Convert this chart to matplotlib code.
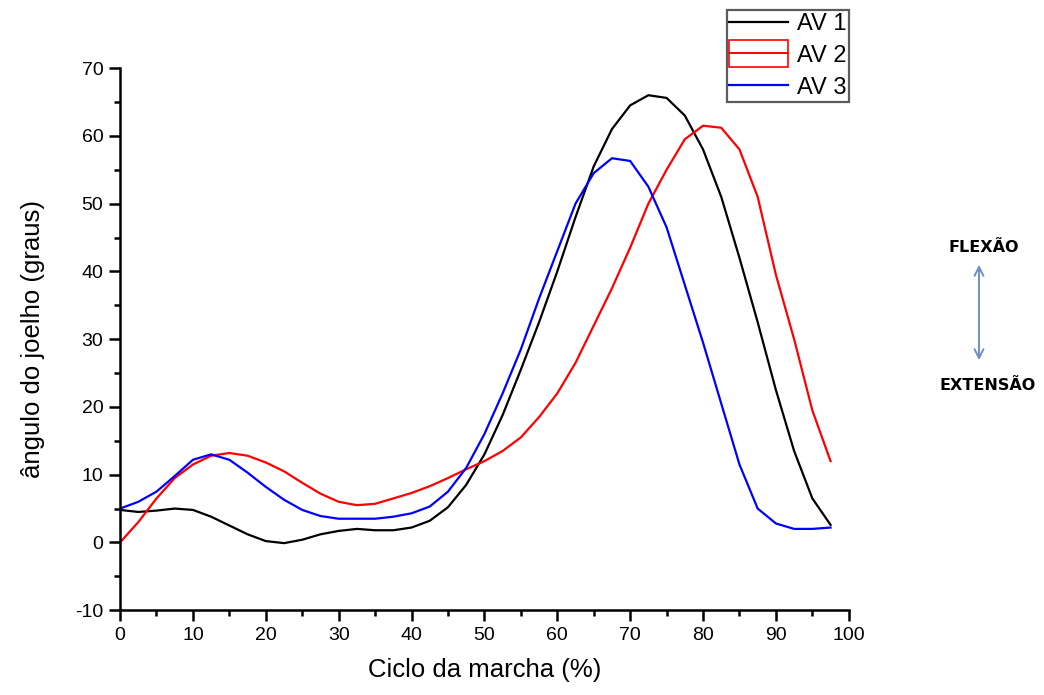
import matplotlib.pyplot as plt
from matplotlib.patches import Rectangle
from matplotlib.ticker import MultipleLocator

plt.rcParams['font.family'] = ['Liberation Sans', 'DejaVu Sans']
plt.rcParams['axes.unicode_minus'] = False

# gait cycle (%) and knee angle for each evaluation
ciclo = [0, 2.5, 5, 7.5, 10, 12.5, 15, 17.5, 20, 22.5, 25, 27.5, 30, 32.5, 35, 37.5,
         40, 42.5, 45, 47.5, 50, 52.5, 55, 57.5, 60, 62.5, 65, 67.5, 70, 72.5, 75,
         77.5, 80, 82.5, 85, 87.5, 90, 92.5, 95, 97.5]
av1 = [4.8, 4.5, 4.7, 5.0, 4.8, 3.8, 2.5, 1.2, 0.2, -0.1, 0.4, 1.2, 1.7, 2.0, 1.8, 1.8,
       2.2, 3.2, 5.2, 8.5, 13.0, 18.8, 25.5, 32.5, 40.0, 48.0, 55.5, 61.0, 64.5, 66.0, 65.6,
       63.0, 58.0, 51.0, 42.0, 32.5, 22.5, 13.5, 6.5, 2.6]
av2 = [0.0, 3.0, 6.5, 9.5, 11.5, 12.8, 13.2, 12.8, 11.8, 10.5, 8.8, 7.2, 6.0, 5.5, 5.7, 6.5,
       7.3, 8.3, 9.5, 10.8, 12.0, 13.5, 15.5, 18.5, 22.0, 26.5, 32.0, 37.5, 43.5, 50.0, 55.0,
       59.5, 61.5, 61.2, 58.0, 51.0, 39.5, 30.0, 19.5, 12.0]
av3 = [5.0, 6.0, 7.5, 9.8, 12.2, 13.0, 12.2, 10.3, 8.2, 6.3, 4.8, 3.9, 3.5, 3.5, 3.5, 3.8,
       4.3, 5.3, 7.5, 11.0, 16.0, 22.0, 28.5, 36.0, 43.0, 50.0, 54.5, 56.7, 56.3, 52.5, 46.5,
       38.0, 29.5, 20.5, 11.5, 5.0, 2.8, 2.0, 2.0, 2.2]


class StackedBoxHandler:
    # two outlined boxes one above the other, as the AV 2 legend key
    def legend_artist(self, legend, orig_handle, fontsize, handlebox):
        x0, y0 = handlebox.xdescent, handlebox.ydescent
        w, h = handlebox.width, handlebox.height
        col = orig_handle.get_color()
        bh = h * 0.8
        mid = y0 + h / 2
        top = Rectangle((x0, mid), w, bh, facecolor='none',
                        edgecolor=col, lw=1.2, transform=handlebox.get_transform())
        bot = Rectangle((x0, mid - bh), w, bh, facecolor='none',
                        edgecolor=col, lw=1.2, transform=handlebox.get_transform())
        handlebox.add_artist(top)
        handlebox.add_artist(bot)
        return top


fig = plt.figure(figsize=(10.44, 6.95), dpi=100)
ax = fig.add_axes([0.115, 0.122, 0.698, 0.780])

l1, = ax.plot(ciclo, av1, color='black', lw=1.6, label='AV 1')
l2, = ax.plot(ciclo, av2, color='red', lw=1.6, label='AV 2')
l3, = ax.plot(ciclo, av3, color='blue', lw=1.6, label='AV 3')

ax.set_xlim(0, 100)
ax.set_ylim(-10, 70)
ax.xaxis.set_major_locator(MultipleLocator(10))
ax.xaxis.set_minor_locator(MultipleLocator(5))
ax.yaxis.set_major_locator(MultipleLocator(10))
ax.yaxis.set_minor_locator(MultipleLocator(5))
for s in ['top', 'right']:
    ax.spines[s].set_visible(False)
for s in ['left', 'bottom']:
    ax.spines[s].set_linewidth(1.8)
ax.tick_params(which='major', direction='out', length=8, width=1.8, labelsize=14, pad=4)
ax.tick_params(which='minor', direction='out', length=4, width=1.8)

ax.set_xlabel('Ciclo da marcha (%)', fontsize=18.5, labelpad=10)
ax.set_ylabel('ângulo do joelho (graus)', fontsize=18.5, labelpad=22)

leg = fig.legend(handles=[l1, l2, l3], loc='upper right',
                 bbox_to_anchor=(849 / 1044, 1 - 10 / 695), borderaxespad=0,
                 fontsize=17, frameon=True, fancybox=False, edgecolor='#333333',
                 handlelength=2.5, handletextpad=0.35, borderpad=0.12,
                 labelspacing=0.42, handler_map={l2: StackedBoxHandler()})
leg.get_frame().set_linewidth(1.6)

# flexion / extension indicator
fig.text(984 / 1044, 1 - 248 / 695, 'FLEXÃO', ha='center', va='center',
         fontsize=11.5, fontweight='bold', family=['DejaVu Sans'])
fig.text(988 / 1044, 1 - 385 / 695, 'EXTENSÃO', ha='center', va='center',
         fontsize=11.5, fontweight='bold', family=['DejaVu Sans'])
fig.add_artist(plt.Annotation('', xy=(979 / 1044, 1 - 262 / 695),
                              xytext=(979 / 1044, 1 - 363 / 695),
                              xycoords='figure fraction',
                              arrowprops=dict(arrowstyle='<->', color='#6b8fc6',
                                              lw=1.4, mutation_scale=16)))

fig.savefig('out.png', dpi=100)
